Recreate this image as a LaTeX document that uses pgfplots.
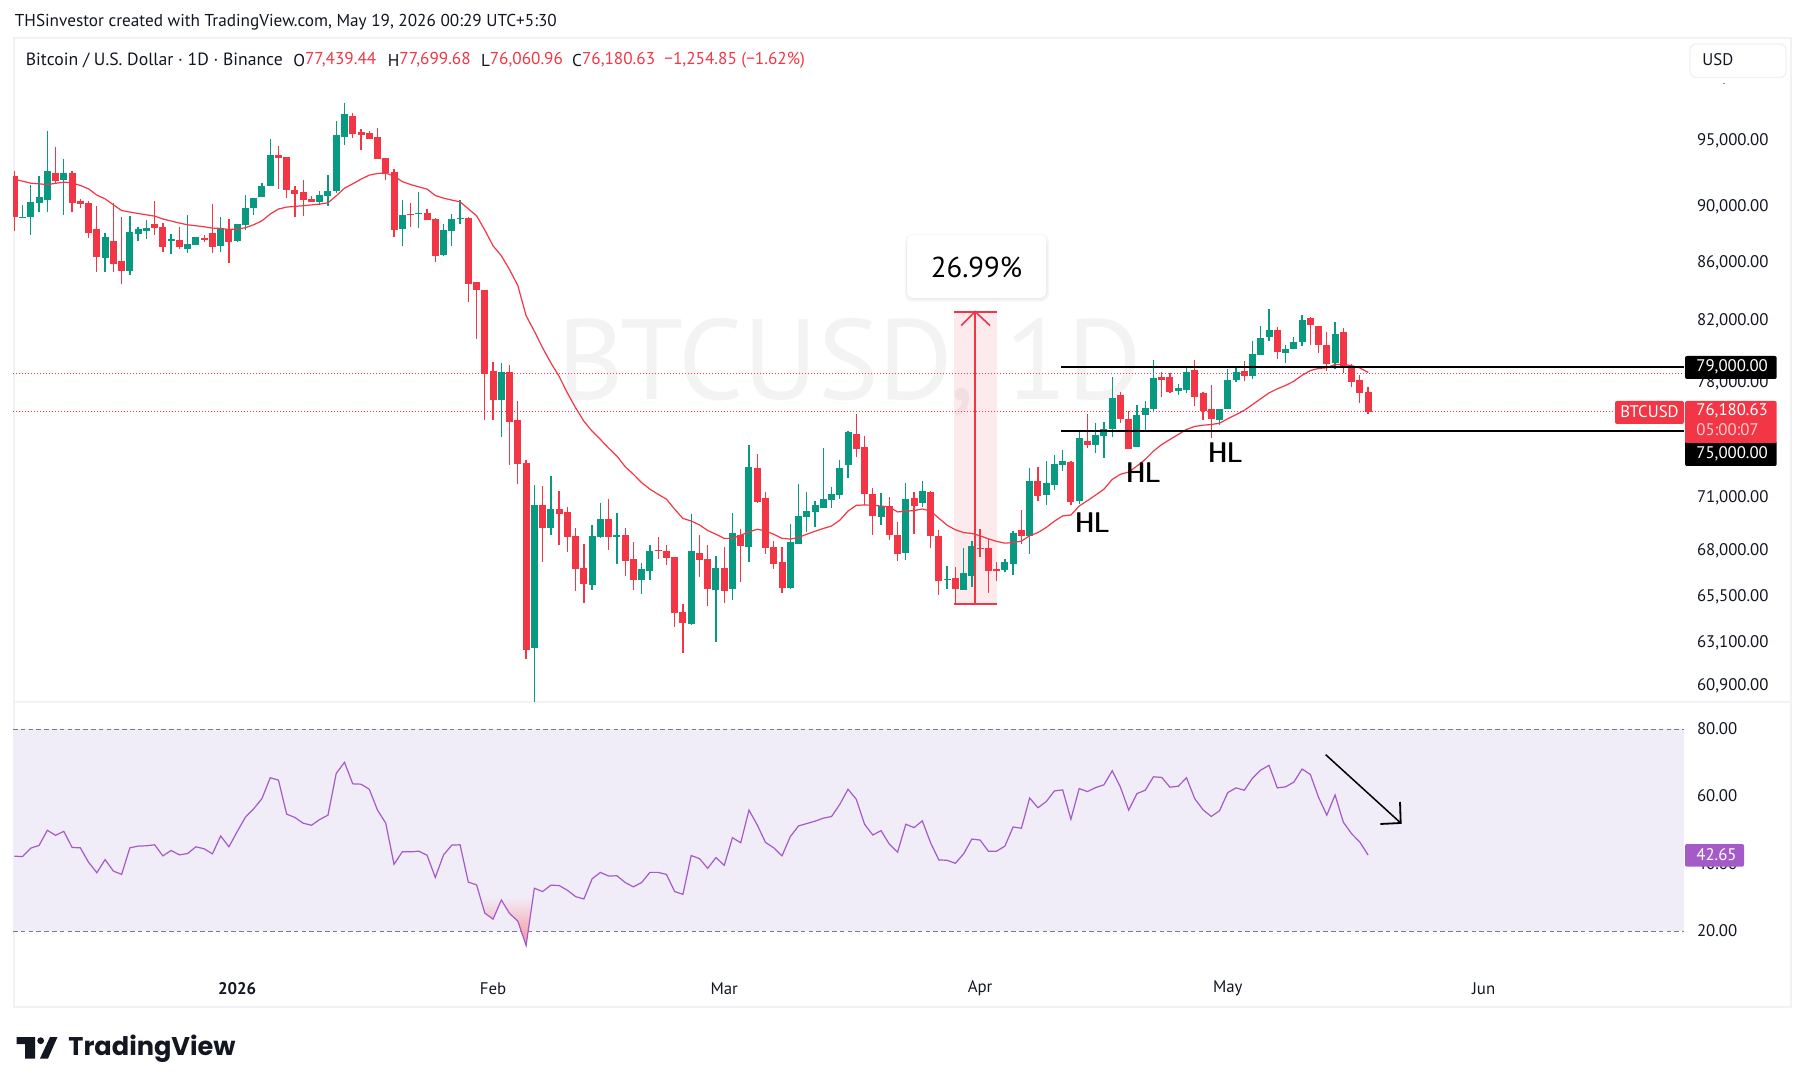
\documentclass[border=0pt]{standalone}
\usepackage{pgfplots}
\usepackage{pgfplotstable}
\usepackage{fontspec}
\pgfplotsset{compat=1.18}
\setmainfont{PT Sans}
\newfontfamily\logofont{Poppins}
\definecolor{cg}{HTML}{089981}
\definecolor{cr}{HTML}{F23645}
\definecolor{rsi}{HTML}{A55BC7}
\definecolor{rsibg}{HTML}{F0ECF8}
\definecolor{frm}{HTML}{F1F2F4}
\definecolor{txt}{HTML}{131722}
\definecolor{wm}{HTML}{F3F3F3}
\pgfplotstableread{
x hi top bot lo
1 90170 89290 89220 89220
2 91650 90389 89290 87990
3 92325 90760 90315 89656
4 95780 92700 90535 89656
6 93615 92550 92020 89440
11 88110 87850 86360 85380
14 89365 88208 85450 85165
15 88570 88425 88065 87560
16 89075 88500 88280 87700
19 88065 87700 87560 86640
21 89440 87350 86990 86710
22 87850 87850 87275 87275
25 89290 88500 87205 86782
27 88785 88785 87560 87491
28 90900 89950 88710 88350
29 90680 90680 89950 89440
30 91800 91575 90760 90760
31 95160 93930 91575 91575
37 91200 90900 90389 90170
38 92400 91200 90830 90095
39 96560 95470 91200 91055
40 97990 97115 95310 94695
47 90535 89440 88425 87205
49 91129 89585 89510 88500
52 88785 88350 86570 86500
53 89510 89145 88280 87205
54 90535 89220 89145 88785
59 79285 78705 76930 74590
63 71730 70570 62820 60000
65 72260 70345 69260 68870
70 69430 68815 66120 65855
71 70685 69770 68755 68700
73 70110 68870 68755 67260
76 67315 66990 66390 65640
77 68310 67978 66880 66390
82 70055 67978 64060 64005
85 67700 67045 65855 63125
87 70110 68980 65905 65320
89 74105 72790 68200 67370
94 69490 68480 65960 65905
95 71790 69945 68365 68365
96 71320 70228 69885 69040
97 70802 70570 70170 69320
98 73925 70920 70400 70400
99 71615 71210 70860 70400
100 73205 72730 71150 70920
101 74954 74895 72905 72140
105 71265 70515 69885 69430
108 71850 70920 67870 67480
110 71964 71381 70685 70455
113 67155 66445 66390 65905
115 68145 66770 65855 65855
116 68534 68255 66610 66015
120 67535 67370 66935 66825
121 69094 68980 67260 66665
123 72730 71964 68815 67810
125 73145 71850 71150 70570
126 73505 72965 71730 71440
127 73805 73145 72905 72553
129 74895 74530 70802 70630
131 75445 74710 74165 73625
132 75566 75135 74650 73325
133 78385 77055 75135 74590
136 76620 75935 73985 73985
137 76870 76435 75935 74895
138 79475 78320 76370 76245
141 77940 77685 77500 77245
142 78960 78705 77560 77370
146 76370 76310 75690 75380
147 78895 78195 76310 76310
148 79090 78705 78195 78067
150 80715 79865 78450 78260
151 81710 80915 79800 79800
152 82845 81445 80980 80715
154 80455 80190 79930 79285
155 80980 80650 80130 80130
156 82445 82110 80650 80325
160 81975 81180 79285 78895
}\greenc
\pgfplotstableread{
x hi top bot lo
0 92700 92325 89290 88300
5 94530 92550 91950 91725
7 92700 92550 90315 89656
8 90610 90460 90240 89950
9 90460 90315 88135 87780
10 90095 88425 86430 85380
12 90315 87560 85940 85380
13 89290 86150 85450 84550
17 90460 88785 88500 87990
18 88855 88570 87135 86782
20 88570 87635 87135 86990
23 87990 87780 87635 87491
24 90240 88135 87135 86710
26 89145 88400 87491 86010
32 94605 93930 93700 91350
33 93770 93770 91275 90680
34 91575 91275 90980 89290
35 92020 91129 90535 89365
36 90830 90610 90389 90389
41 97190 96955 95545 95235
42 95935 95700 95470 94310
43 95780 95620 95160 95160
44 96010 95310 93615 93615
45 93700 93700 92550 92020
46 92850 92627 88350 87850
48 90315 89510 89440 88570
50 89875 89585 89075 89075
51 89220 89145 86500 86078
55 89290 89220 84550 83320
56 84689 84689 84140 80850
57 84140 84140 78575 75690
58 79348 78770 76930 75690
60 79155 78705 75566 72905
61 76870 75690 72965 71790
62 73205 73025 62715 62255
64 71670 70570 69260 67370
66 71381 70345 70055 68310
67 70455 70170 68755 67925
68 69260 68815 66990 65800
69 68365 67045 66175 65160
72 70920 69770 68755 68035
74 69260 68870 67427 66610
75 68480 67535 66390 65855
78 68755 68035 67978 67535
79 68310 67978 67590 67205
80 67645 67645 64633 63900
81 65105 64685 64110 62560
83 68870 67870 67480 66555
84 68310 67535 65905 65000
86 68200 67045 65800 65160
88 69205 68870 68255 66285
90 73565 72730 70745 70685
91 71320 70975 68145 67810
92 68534 68200 67260 66990
93 68200 67370 65960 65695
102 76000 74770 73865 73440
103 74650 73985 71210 70570
104 71555 71210 69945 68870
106 71035 70515 68870 68590
107 69600 68870 67810 67427
109 71320 70975 70515 68925
111 71381 71320 68815 68145
112 69150 68815 66338 65590
114 67100 66500 65905 65160
117 69205 68145 68090 67645
118 68645 68145 66880 65695
119 67370 66990 66880 66338
122 70285 69150 68815 68365
124 72790 71964 71090 70802
128 73145 73085 70745 70570
130 76060 74405 74165 73925
134 77434 77245 75750 75505
135 76245 75750 73865 73865
139 78705 78385 78195 77115
140 78640 78385 77434 77370
143 79475 78830 77115 76495
144 77434 77370 76245 75690
145 77875 76370 75750 74530
149 79410 78770 78450 78130
153 81640 81445 79997 79540
157 82310 82245 81775 80455
158 81710 81710 80455 79930
159 81310 80455 79220 78770
161 81575 81310 79090 78640
162 79220 79090 78067 77750
163 78515 78195 77370 76745
164 77699.68 77439.44 76180.63 76060.96
}\redc
\pgfplotstableread{
x y
0 92070
2 91775
4 91670
6 91850
7 91800
8 91600
9 91350
10 90885
11 90610
12 90170
13 89750
14 89635
15 89530
17 89340
18 89130
20 88835
21 88710
23 88570
24 88475
25 88445
26 88375
27 88400
28 88500
29 88710
30 89000
31 89490
32 89855
33 90000
35 90100
37 90220
38 90315
39 90830
40 91400
41 91725
42 92075
43 92380
44 92500
45 92530
46 92300
47 91895
48 91670
49 91500
50 91330
51 90855
52 90660
53 90515
54 90390
55 89875
56 89365
57 88330
58 87200
59 86500
60 85520
61 84415
62 82375
63 81330
64 80240
65 79265
66 78405
67 77350
68 76415
69 75585
70 74970
71 74470
72 73945
73 73460
74 72830
75 72380
76 71890
77 71500
78 71210
79 70920
80 70345
81 69815
82 69675
83 69450
84 69135
85 68925
86 68690
87 68690
88 68870
89 69055
90 69205
91 69110
92 68925
93 68690
94 68650
95 68745
96 68925
97 69094
98 69245
99 69390
100 69715
101 70245
102 70570
103 70590
104 70570
105 70530
106 70475
107 70190
108 70228
109 70270
110 70360
111 70245
112 69830
113 69430
114 69170
115 69020
116 68965
117 68830
118 68665
119 68520
120 68425
121 68460
122 68534
123 68830
124 69020
125 69300
126 69659
127 69960
128 70015
129 70530
130 70840
131 71165
132 71500
133 72080
134 72380
135 72510
136 72870
137 73265
138 73760
139 74165
140 74470
141 74770
142 75075
143 75260
144 75340
145 75380
146 75460
147 75730
148 75995
149 76265
150 76620
151 76980
152 77350
153 77605
154 77815
155 78085
156 78470
157 78770
158 78915
159 78960
160 79170
161 79170
162 79090
163 78940
164 78660
}\ema
\pgfplotstableread{
x y
0 42.3
1 42.2
2 44.7
3 45.5
4 50.0
5 48.5
6 49.7
7 44.9
8 44.8
9 40.5
10 37.4
11 41.3
12 37.9
13 36.9
14 44.8
15 45.3
16 45.4
17 45.7
18 42.4
19 44.0
20 42.7
21 43.1
22 45.1
23 44.5
24 43.0
25 48.3
26 45.1
27 49.6
28 53.9
29 56.4
30 59.4
31 65.6
32 64.9
33 54.8
34 53.8
35 52.1
36 51.5
37 53.2
38 54.5
39 66.9
40 70.2
41 63.8
42 63.7
43 62.2
44 56.0
45 52.1
46 39.9
47 43.6
48 43.6
49 43.8
50 42.6
51 36.0
52 42.7
53 45.6
54 45.7
55 34.6
56 33.8
57 25.4
58 23.6
59 29.3
60 25.3
61 23.0
62 15.8
63 32.8
64 31.8
65 33.7
66 33.6
67 32.2
68 30.3
69 29.6
70 35.6
71 37.5
72 36.4
73 36.5
74 34.5
75 33.2
76 34.5
77 37.5
78 37.5
79 36.9
80 31.8
81 31.0
82 42.5
83 41.6
84 38.7
85 41.9
86 39.6
87 47.8
88 46.3
89 56.0
90 51.6
91 46.4
92 44.8
93 42.4
94 48.1
95 51.3
96 52.0
97 52.7
98 53.6
99 54.1
100 57.7
101 62.2
102 59.2
103 51.8
104 48.6
105 49.9
106 45.9
107 43.5
108 51.8
109 50.8
110 52.8
111 46.3
112 41.2
113 41.1
114 40.2
115 43.0
116 47.4
117 47.1
118 43.8
119 43.8
120 45.3
121 51.0
122 50.6
123 59.6
124 56.7
125 58.5
126 61.7
127 62.0
128 53.3
129 62.4
130 61.5
131 62.7
132 63.5
133 67.7
134 62.8
135 56.0
136 60.9
137 61.9
138 65.9
139 65.7
140 62.8
141 63.1
142 65.6
143 59.4
144 56.1
145 54.1
146 55.8
147 61.2
148 62.6
149 61.9
150 65.5
151 67.9
152 69.3
153 62.6
154 62.9
155 64.3
156 68.2
157 66.6
158 59.8
159 54.5
160 60.5
161 52.4
162 49.0
163 46.5
164 42.65
}\rsitab
\newcommand{\tfont}{\fontsize{8.4pt}{10pt}\selectfont}
\newcommand{\hfont}{\fontsize{8.6pt}{10pt}\selectfont}
\newcommand{\lfont}{\fontsize{8.85pt}{10pt}\selectfont}
\begin{document}
\begin{tikzpicture}
\path[use as bounding box,fill=white] (0,0) rectangle (902.5pt,-545pt);
\begin{scope}[x=0.5pt,y=-0.5pt]
\draw[frm,line width=1pt] (14,38) rectangle (1791,1007);
\draw[frm,line width=0.8pt] (14,702) -- (1791,702);
\node[wm,font=\fontsize{57pt}{60pt}\selectfont,anchor=center] at (850,367) {BTCUSD, 1D};
\end{scope}
\begin{axis}[
  at={(6.5pt,-351pt)},anchor=south west,
  scale only axis,width=835.5pt,height=332pt,
  ymode=log,log basis y=10,
  xmin=-0.157,xmax=202.27,ymin=60115,ymax=103327,
  xtick=\empty,
  ytick={95000,90000,86000,82000,78000,71000,68000,65500,63100,60900},
  yticklabels={{95,000.00},{90,000.00},{86,000.00},{82,000.00},{78,000.00},{71,000.00},{68,000.00},{65,500.00},{63,100.00},{60,900.00}},
  yticklabel pos=right,
  yticklabel style={anchor=west,font=\tfont,text=txt,yshift=0pt,xshift=3pt},
  tick style={draw=none},major tick length=0,minor tick length=0,
  axis line style={draw=none},
]
\addplot[cr,dash pattern=on 0.5pt off 1pt,line width=0.5pt,forget plot] coordinates {(-0.157,78600)(202.27,78600)};
\addplot[cr,dash pattern=on 0.5pt off 1pt,line width=0.5pt,forget plot] coordinates {(-0.157,76180.63)(193.9,76180.63)};
\addplot[draw=none,fill=cr,fill opacity=0.1,forget plot] coordinates {(113.8,65105)(113.8,82645)(119,82645)(119,65105)} --cycle;
% wicks and bodies
\addplot[draw=none,mark=none,forget plot,error bars/.cd,y dir=both,y explicit,error mark=none,error bar style={draw=cg,line width=0.65pt,solid}]
  table[x=x,y=top,y error plus expr=\thisrow{hi}-\thisrow{top},y error minus expr=\thisrow{top}-\thisrow{lo}] {\greenc};
\addplot[draw=none,mark=none,forget plot,error bars/.cd,y dir=both,y explicit,error mark=none,error bar style={draw=cg,line width=3.5pt,solid}]
  table[x=x,y=top,y error plus expr=0,y error minus expr=\thisrow{top}-\thisrow{bot}] {\greenc};
\addplot[draw=none,mark=none,forget plot,error bars/.cd,y dir=both,y explicit,error mark=none,error bar style={draw=cr,line width=0.65pt,solid}]
  table[x=x,y=top,y error plus expr=\thisrow{hi}-\thisrow{top},y error minus expr=\thisrow{top}-\thisrow{lo}] {\redc};
\addplot[draw=none,mark=none,forget plot,error bars/.cd,y dir=both,y explicit,error mark=none,error bar style={draw=cr,line width=3.5pt,solid}]
  table[x=x,y=top,y error plus expr=0,y error minus expr=\thisrow{top}-\thisrow{bot}] {\redc};
\addplot[cr,line width=0.6pt,forget plot] table[x=x,y=y] {\ema};
% range tool
\addplot[cr,line width=1pt,forget plot] coordinates {(113.8,82645)(119,82645)};
\addplot[cr,line width=1pt,forget plot] coordinates {(113.8,65105)(119,65105)};
\addplot[cr,line width=0.8pt,forget plot] coordinates {(116.4,65105)(116.4,82645)};
\addplot[cr,line width=0.8pt,forget plot] coordinates {(114.7,81710)(116.4,82645)(118.2,81710)};
% levels
\addplot[black,line width=1pt,forget plot] coordinates {(126.8,79000)(202.27,79000)};
\addplot[black,line width=1pt,forget plot] coordinates {(126.8,75000)(202.27,75000)};
\end{axis}
\begin{axis}[
  at={(6.5pt,-487.5pt)},anchor=south west,
  scale only axis,width=835.5pt,height=136pt,
  xmin=-0.157,xmax=202.27,ymin=7.02,ymax=87.81,
  xtick={27,58,86,117,147,178},
  xticklabels={\textbf{2026},Feb,Mar,Apr,May,Jun},
  xticklabel style={font=\tfont,text=txt,anchor=center,yshift=-6.7pt},
  ytick={80,60,40,20},
  yticklabels={80.00,60.00,40.00,20.00},
  yticklabel pos=right,
  yticklabel style={anchor=west,font=\tfont,text=txt,yshift=0.3pt,xshift=3pt},
  tick style={draw=none},major tick length=0,
  axis line style={draw=none},
]
\addplot[draw=none,fill=rsibg,forget plot] coordinates {(-0.157,20)(-0.157,80)(202.27,80)(202.27,20)} --cycle;
\addplot[draw={rgb,255:red,120;green,123;blue,134},dash pattern=on 2.3pt off 1.6pt,line width=0.5pt,forget plot] coordinates {(-0.157,80)(202.27,80)};
\addplot[draw={rgb,255:red,120;green,123;blue,134},dash pattern=on 2.3pt off 1.6pt,line width=0.5pt,forget plot] coordinates {(-0.157,20)(202.27,20)};
\addplot[draw=none,top color=rsibg,bottom color=cr!55!white,forget plot] coordinates {(56.45,30)(57,25.4)(58,23.6)(59,29.3)(60,25.3)(61,23.0)(62,15.8)(62.83,30)} --cycle;
\addplot[rsi,line width=0.6pt,forget plot] table[x=x,y=y] {\rsitab};
\end{axis}
\begin{scope}[x=0.5pt,y=-0.5pt]
% header
\node[anchor=west,font=\hfont,text=txt,inner sep=0] at (14.5,22) {THSinvestor created with TradingView.com, May 19, 2026 00:29 UTC+5:30};
\node[anchor=west,font=\lfont,text=txt,inner sep=0] at (25.5,60) {Bitcoin / U.S. Dollar · 1D · Binance};
\node[anchor=west,font=\hfont,text=txt,inner sep=0] at (293,60) {O};
\node[anchor=west,font=\hfont,text=cr,inner sep=0] at (304.6,60) {77,439.44};
\node[anchor=west,font=\hfont,text=txt,inner sep=0] at (387.5,60) {H};
\node[anchor=west,font=\hfont,text=cr,inner sep=0] at (399,60) {77,699.68};
\node[anchor=west,font=\hfont,text=txt,inner sep=0] at (480.8,60) {L};
\node[anchor=west,font=\hfont,text=cr,inner sep=0] at (489.4,60) {76,060.96};
\node[anchor=west,font=\hfont,text=txt,inner sep=0] at (571.8,60) {C};
\node[anchor=west,font=\hfont,text=cr,inner sep=0] at (581.6,60) {76,180.63};
\node[anchor=west,font=\hfont,text=cr,inner sep=0] at (664,60) {−1,254.85 (−1.62\%)};
% USD
\draw[frm,line width=0.7pt,fill=white,rounded corners=3pt] (1690,44) rectangle (1786,77.5);
\node[anchor=west,font=\tfont,text=txt,inner sep=0] at (1702,60) {USD};
\fill[txt!50] (1723,83.5) rectangle (1725,84.5);
% badges
\fill[black,rounded corners=1pt] (1685,356) rectangle (1776.7,379);
\node[anchor=west,font=\tfont,text=white,inner sep=0] at (1696,366.5) {79,000.00};
\fill[black,rounded corners=1pt] (1685,441) rectangle (1776.7,466);
\node[anchor=west,font=\tfont,text=white,inner sep=0] at (1696,453.5) {75,000.00};
\fill[cr,rounded corners=1pt] (1685,401) rectangle (1776.7,443);
\node[anchor=west,font=\tfont,text=white,inner sep=0] at (1696,411) {76,180.63};
\node[anchor=west,font=\tfont,text=white!75!cr,inner sep=0] at (1696,430) {05:00:07};
\fill[cr,rounded corners=1pt] (1615,401) rectangle (1684,424);
\node[font=\tfont,text=white,inner sep=0] at (1649.5,412) {BTCUSD};
\fill[rsi,rounded corners=1pt] (1685,844) rectangle (1744,866.7);
\node[anchor=west,font=\tfont,text=white,inner sep=0] at (1696,855) {42.65};
% callout
\fill[black!3,rounded corners=4pt] (905,234) rectangle (1049,302);
\fill[black!7,rounded corners=4pt] (906,236) rectangle (1047.5,300);
\fill[white,rounded corners=3pt] (907,235) rectangle (1046,298);
\node[font=\fontsize{14.4pt}{16pt}\selectfont,text=black,inner sep=0] at (976.5,267) {26.99\%};
% HL
\foreach \hx/\hy in {1092/523,1143/473,1225/453}{
  \node[font=\fontsize{14pt}{16pt}\selectfont,text=black,inner sep=0] at (\hx-0.4,\hy) {HL};
  \node[font=\fontsize{14pt}{16pt}\selectfont,text=black,inner sep=0] at (\hx+0.4,\hy) {HL};
}
% arrow
\draw[black,line width=0.75pt] (1325.7,754.7) -- (1400.7,823);
\draw[black,line width=0.9pt] (1400,802) -- (1400.7,823) -- (1380.3,824);
% logo
\fill[txt] (16.7,1037) -- (35,1037) -- (35,1058.5) -- (25,1058.5) -- (25,1044) -- (16.7,1044) -- cycle;
\fill[txt] (40.7,1040.7) circle (3.4);
\fill[txt] (50,1037) -- (57.5,1037) -- (48,1058.5) -- (40,1058.5) -- cycle;
\node[anchor=west,font=\logofont\fontsize{12.8pt}{16pt}\selectfont\bfseries,text=txt,inner sep=0] at (68,1049) {TradingView};
\end{scope}
\end{tikzpicture}
\end{document}
